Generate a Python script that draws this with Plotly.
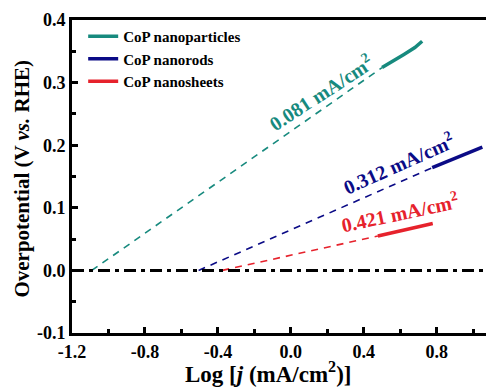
import math
import plotly.graph_objects as go

# Tafel data (log j vs overpotential) for the three CoP morphologies
names = ["CoP nanoparticles", "CoP nanorods", "CoP nanosheets"]
colors = ["#178a7e", "#0b0b86", "#e6222c"]
j0 = [0.081, 0.312, 0.421]  # exchange current densities, mA/cm2

tafel_x = [
    [0.500, 0.560, 0.620, 0.680, 0.720],
    [0.775, 0.850, 0.920, 0.990, 1.050],
    [0.477, 0.550, 0.630, 0.710, 0.778],
]
tafel_y = [
    [0.324, 0.334, 0.345, 0.356, 0.366],
    [0.164, 0.173, 0.182, 0.190, 0.197],
    [0.055, 0.060, 0.065, 0.070, 0.075],
]

label_pos = [(0.165, 0.285), (0.590, 0.171), (0.595, 0.094)]
label_angle = [-33, -24, -12]

x_ticks = [-1.2, -0.8, -0.4, 0.0, 0.4, 0.8]
y_ticks = [-0.1, 0.0, 0.1, 0.2, 0.3, 0.4]

x_title = "<b>Log [<i>j</i> (mA/cm<sup>2</sup>)]</b>"
y_title = "<b>Overpotential (V <i>vs.</i> RHE)</b>"

font_family = "Liberation Serif"

fig = go.Figure()

for name, c, j, xs, ys in zip(names, colors, j0, tafel_x, tafel_y):
    # extrapolated fit down to zero overpotential
    fig.add_trace(go.Scatter(
        x=[math.log10(j), xs[0]], y=[0.0, ys[0]], mode="lines",
        line=dict(color=c, width=1.6, dash="7px,6px"), showlegend=False,
        hoverinfo="skip"))
    # measured linear region
    fig.add_trace(go.Scatter(
        x=xs, y=ys, mode="lines", name=f"<b>{name}</b>",
        line=dict(color=c, width=3.5)))

# zero-overpotential reference line
fig.add_trace(go.Scatter(
    x=[-1.2, 1.07], y=[0.0, 0.0], mode="lines", showlegend=False,
    line=dict(color="black", width=3, dash="12px,5px,4px,5px")))

for c, j, (lx, ly), ang in zip(colors, j0, label_pos, label_angle):
    fig.add_annotation(
        x=lx, y=ly, text=f"<b>{j:g} mA/cm<sup>2</sup></b>", showarrow=False,
        textangle=ang, font=dict(family=font_family, size=20, color=c))

# axis titles
fig.add_annotation(
    xref="paper", yref="paper", x=0.473, y=-0.125, xanchor="center", yanchor="middle",
    text=x_title, showarrow=False, font=dict(family=font_family, size=23, color="black"))
fig.add_annotation(
    xref="paper", yref="paper", x=-0.121, y=0.493, xanchor="center", yanchor="middle",
    text=y_title, textangle=-90, showarrow=False,
    font=dict(family=font_family, size=21, color="black"))

axis_common = dict(
    showline=True, linewidth=3, linecolor="black", showgrid=False, zeroline=False,
    ticks="inside", ticklen=6, tickwidth=2.5, tickcolor="black",
    tickfont=dict(family=font_family, size=18, color="black"),
)

fig.update_xaxes(
    **axis_common, range=[-1.2, 1.07], mirror=True,
    tickvals=x_ticks, ticktext=[f"<b>{v:.1f}</b>" for v in x_ticks],
    minor=dict(dtick=0.2, tick0=-1.2, ticks="inside", ticklen=4, tickwidth=2.5, tickcolor="black"),
)
fig.update_yaxes(
    **axis_common, range=[-0.1, 0.4],
    tickvals=y_ticks, ticktext=[f"<b>{v:.1f}</b>" for v in y_ticks],
    minor=dict(dtick=0.05, tick0=-0.1, ticks="inside", ticklen=4, tickwidth=2.5, tickcolor="black"),
)

fig.update_layout(
    width=486, height=392,
    margin=dict(l=72, r=0, t=20, b=59),
    plot_bgcolor="white", paper_bgcolor="white",
    legend=dict(x=0.027, y=1.0, xanchor="left", yanchor="top",
                bgcolor="rgba(0,0,0,0)", tracegroupgap=0, itemwidth=30,
                font=dict(family=font_family, size=15, color="black")),
)

fig.write_html("out.html")
